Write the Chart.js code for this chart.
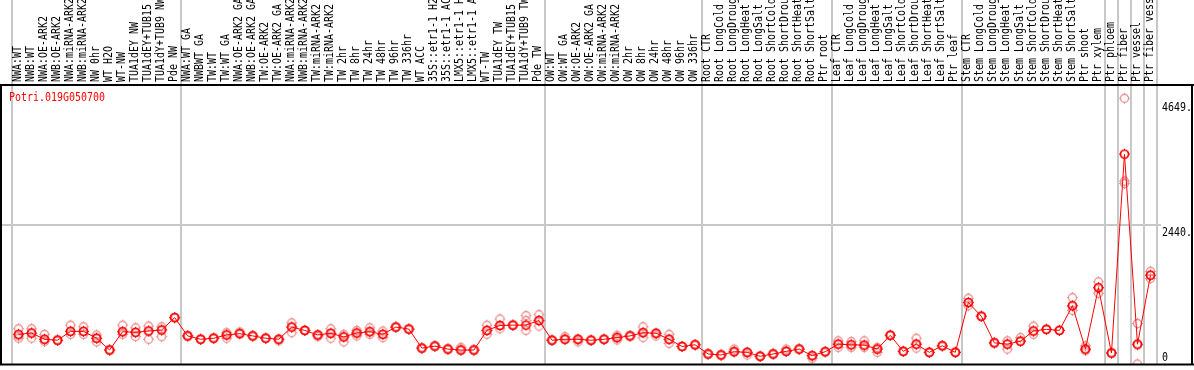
<!DOCTYPE html>
<html>
<head>
<meta charset="utf-8">
<script src="https://cdn.jsdelivr.net/npm/chart.js@4"></script>
<style>
  body { margin: 0; background: #fff; }
  canvas { display: block; }
</style>
</head>
<body>
<canvas id="expression-chart" width="1194" height="370"></canvas>
<script>
const geneId = "Potri.019G050700";

const samples = [
  "NWA:WT", "NWB:WT", "NWA:OE-ARK2", "NWB:OE-ARK2", "NWA:miRNA-ARK2", "NWB:miRNA-ARK2",
  "NW 0hr", "WT H2O", "WT-NW", "TUA1dEY NW", "TUA1dEY+TUB15", "TUA1dY+TUB9 NW", "Pde NW",
  "NWA:WT GA", "NWBWT GA", "TW:WT", "TW:WT GA", "NWA:OE-ARK2 GA", "NWB:OE-ARK2 GA",
  "TW:OE-ARK2", "TW:OE-ARK2 GA", "NWA:miRNA-ARK2", "NWB:miRNA-ARK2", "TW:miRNA-ARK2",
  "TW:miRNA-ARK2", "TW 2hr", "TW 8hr", "TW 24hr", "TW 48hr", "TW 96hr", "TW 336hr",
  "WT ACC", "35S::etr1-1 H2", "35S::etr1-1 AC", "LMX5::etr1-1 H", "LMX5::etr1-1 A",
  "WT-TW", "TUA1dEY TW", "TUA1dEY+TUB15", "TUA1dY+TUB9 TW", "Pde TW",
  "OW:WT", "OW:WT GA", "OW:OE-ARK2", "OW:OE-ARK2 GA", "OW:miRNA-ARK2", "OW:miRNA-ARK2",
  "OW 2hr", "OW 8hr", "OW 24hr", "OW 48hr", "OW 96hr", "OW 336hr",
  "Root CTR", "Root LongCold", "Root LongDroug", "Root LongHeat", "Root LongSalt",
  "Root ShortCold", "Root ShortDrou", "Root ShortHeat", "Root ShortSalt", "Ptr root",
  "Leaf CTR", "Leaf LongCold", "Leaf LongDroug", "Leaf LongHeat", "Leaf LongSalt",
  "Leaf ShortCold", "Leaf ShortDrou", "Leaf ShortHeat", "Leaf ShortSalt", "Ptr leaf",
  "Stem CTR", "Stem LongCold", "Stem LongDroug", "Stem LongHeat", "Stem LongSalt",
  "Stem ShortCold", "Stem ShortDrou", "Stem ShortHeat", "Stem ShortSalt", "Ptr shoot", "Ptr xylem",
  "Ptr phloem", "Ptr fiber", "Ptr vessel", "Ptr fiber vess"
];
const groupSizes = [13, 28, 12, 10, 10, 11, 1, 1, 1, 1];

const means = [
  519, 542, 433, 416, 571, 571, 451, 244, 565, 554, 577, 594, 812,
  491, 433, 451, 508, 531, 491, 451, 433, 646, 588, 508, 537, 474, 542, 565, 519, 646, 611,
  278, 313, 261, 244, 244, 588, 674, 680, 680, 761,
  416, 433, 433, 416, 433, 462, 491, 548, 537, 433, 307, 336,
  175, 158, 215, 204, 135, 175, 221, 261, 146, 215,
  347, 336, 330, 261, 502, 221, 347, 204, 319, 204,
  1076, 835, 370, 347, 399, 577, 606, 588, 1019, 261, 1335,
  192, 3671, 347, 1553
];
const rep1 = [
  617, 617, 519, 416, 680, 651, 508, 244, 680, 634, 663, 651, 812,
  491, 433, 451, 548, 560, 491, 451, 433, 720, 588, 508, 617, 519, 588, 634, 577, 646, 611,
  278, 313, 261, 290, 244, 680, 789, 680, 847, 864,
  416, 479, 433, 416, 433, 502, 491, 651, 537, 519, 307, 336,
  175, 158, 261, 204, 135, 175, 261, 261, 146, 215,
  405, 393, 405, 290, 502, 221, 451, 204, 319, 204,
  1151, 835, 370, 405, 462, 663, 606, 588, 1162, 319, 1438,
  192, 4649, 709, 1622
];
const rep2 = [
  451, 451, 393, 416, 519, 519, 387, 244, 519, 479, 433, 479, 812,
  491, 433, 451, 451, 531, 491, 451, 405, 548, 588, 479, 451, 387, 491, 519, 462, 646, 611,
  278, 313, 261, 244, 244, 519, 617, 680, 761, 663,
  416, 433, 387, 416, 433, 422, 491, 462, 491, 359, 307, 336,
  175, 158, 215, 158, 135, 175, 221, 261, 100, 215,
  290, 290, 290, 204, 502, 221, 278, 204, 319, 204,
  1019, 835, 370, 261, 399, 519, 606, 588, 938, 232, 1237,
  192, 3200, 0, 1495
];
const rep3 = [
  490, 542, 433, 416, 571, 571, 451, 244, 565, 554, 577, 594, 812,
  491, 433, 451, 508, 531, 491, 451, 433, 646, 588, 508, 537, 474, 542, 565, 519, 646, 611,
  278, 313, 261, 244, 244, 588, 674, 680, 588, 761,
  416, 433, 433, 416, 433, 462, 491, 548, 537, 433, 307, 336,
  175, 158, 215, 204, 135, 175, 221, 261, 146, 215,
  347, 336, 330, 261, 502, 221, 347, 204, 319, 204,
  1076, 835, 370, 347, 399, 577, 606, 588, 1019, 261, 1335,
  192, 3160, 332, 1553
];
const yTickLabels = ["0", "2440.", "4649."];

const maxRep = Math.max(...rep1, ...rep2, ...rep3);
const yMax = maxRep * 1.05;
const yTickValues = [0, yMax / 2, maxRep];

const monoFont = '12px "DejaVu Sans Mono"';
function drawText(ctx, text, x, y, angle, align, baseline, color) {
  ctx.save();
  ctx.translate(x, y);
  ctx.rotate(angle);
  ctx.scale(0.83, 1);
  ctx.font = monoFont;
  ctx.fillStyle = color;
  ctx.textAlign = align;
  ctx.textBaseline = baseline;
  ctx.fillText(text, 0, 0);
  ctx.restore();
}

function makeMarker(color, width) {
  const c = document.createElement('canvas');
  c.width = 15; c.height = 15;
  const g = c.getContext('2d');
  g.strokeStyle = color;
  g.lineWidth = width;
  g.beginPath();
  g.arc(7.5, 7.5, 4, 0, Math.PI * 2);
  g.stroke();
  g.lineWidth = 1;
  g.beginPath();
  g.moveTo(7.5, 2); g.lineTo(7.5, 3);
  g.moveTo(7.5, 12); g.lineTo(7.5, 13);
  g.moveTo(2, 7.5); g.lineTo(3, 7.5);
  g.moveTo(12, 7.5); g.lineTo(13, 7.5);
  g.stroke();
  return c;
}
const mainMarker = makeMarker('#ff0000', 1.7);
const repMarker = makeMarker('#eb9090', 1.3);

// separators, gridline, labels and frame
const backdrop = {
  id: 'backdrop',
  beforeDatasetsDraw(chart) {
    const { ctx, chartArea: area, scales: { x, y } } = chart;
    const step = area.width / samples.length;
    ctx.save();
    ctx.strokeStyle = '#c8c8c8';
    ctx.lineWidth = 2;
    let k = 0;
    const cuts = [0];
    groupSizes.forEach(n => { k += n; cuts.push(k); });
    ctx.beginPath();
    cuts.forEach(c => {
      const px = Math.round(x.getPixelForValue(0) - step / 2 + c * step);
      ctx.moveTo(px, 0);
      ctx.lineTo(px, area.bottom);
    });
    const gy = Math.round(y.getPixelForValue(yTickValues[1]));
    ctx.moveTo(0, gy);
    ctx.lineTo(1161, gy);
    ctx.stroke();
    ctx.restore();
  },
  afterDraw(chart) {
    const { ctx, chartArea: area, scales: { x, y }, width } = chart;
    samples.forEach((s, i) => {
      drawText(ctx, s, x.getPixelForValue(i) - 1, area.top - 3, -Math.PI / 2, 'left', 'middle', '#000');
    });
    drawText(ctx, geneId, 9, area.top + 15.5, 0, 'left', 'alphabetic', '#ff0000');
    const offsets = [-3.5, 11, 13];
    yTickValues.forEach((v, i) => {
      drawText(ctx, yTickLabels[i], 1162, y.getPixelForValue(v) + offsets[i], 0, 'left', 'alphabetic', '#000');
    });
    ctx.save();
    ctx.strokeStyle = '#000';
    ctx.lineWidth = 2;
    ctx.beginPath();
    ctx.moveTo(0, area.top); ctx.lineTo(width, area.top);
    ctx.moveTo(0, area.bottom + 0.5); ctx.lineTo(width, area.bottom + 0.5);
    ctx.moveTo(1, area.top); ctx.lineTo(1, area.bottom + 1);
    ctx.moveTo(1192, area.top); ctx.lineTo(1192, area.bottom + 1);
    ctx.stroke();
    ctx.restore();
  }
};

new Chart(document.getElementById('expression-chart'), {
  type: 'line',
  data: {
    labels: samples,
    datasets: [
      {
        label: geneId,
        data: means,
        borderColor: '#ff0000',
        borderWidth: 1,
        tension: 0,
        pointStyle: mainMarker,
        pointRadius: 5,
        order: 0
      },
      ...[rep1, rep2, rep3].map(r => ({
        data: r,
        showLine: false,
        borderColor: '#eb9090',
        pointStyle: repMarker,
        pointRadius: 5,
        order: 1
      }))
    ]
  },
  options: {
    responsive: false,
    animation: false,
    events: [],
    layout: { padding: { left: 12, right: 37, top: 85, bottom: 1.5 } },
    plugins: { legend: { display: false }, tooltip: { enabled: false } },
    scales: {
      x: { type: 'category', offset: true, display: false },
      y: { min: 0, max: yMax, display: false }
    }
  },
  plugins: [backdrop]
});
</script>
</body>
</html>
